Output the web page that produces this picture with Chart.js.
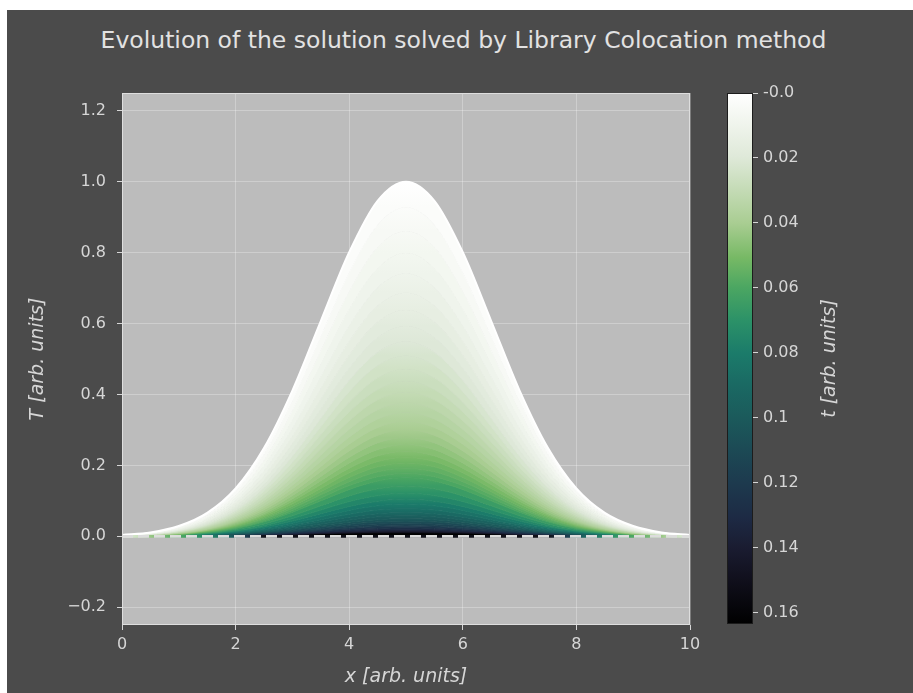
<!DOCTYPE html>
<html>
<head>
<meta charset="utf-8">
<script src="https://cdn.jsdelivr.net/npm/chart.js@4.4.1/dist/chart.umd.min.js"></script>
<style>
    html, body { margin: 0; padding: 0; background: #fff; width: 913px; height: 693px; overflow: hidden; }
    #fig   { position: absolute; left: 7px; top: 10px; width: 906px; height: 683px; background: #4b4b4b; }
    #title { position: absolute; left: 0; top: 26px; width: 913px; padding-left: 14px; box-sizing: border-box;
             text-align: center; font: 23.5px "DejaVu Sans"; line-height: 28px; color: #e2e2e2; }
    #main  { position: absolute; left: 0; top: 0; }
    #cbar  { position: absolute; left: 700px; top: 0; }
</style>
</head>
<body>
<div id="fig"></div>
<div id="title">Evolution of the solution solved by Library Colocation method</div>
<canvas id="main" width="913" height="693"></canvas>
<canvas id="cbar" width="213" height="693"></canvas>
<script>
/* global Chart */

// ---------------------------------------------------------------------------
// Data
// ---------------------------------------------------------------------------

const X_VALUES = [0, 0.5, 1, 1.5, 2, 2.5, 3, 3.5, 4, 4.5, 5, 5.5, 6, 6.5, 7, 7.5, 8, 8.5, 9, 9.5, 10];

const TIMES = [0, 0.0025, 0.005, 0.0075, 0.01, 0.0125, 0.015, 0.0175, 0.02, 0.0225, 0.025, 0.0275,
               0.03, 0.0325, 0.035, 0.0375, 0.04, 0.0425, 0.045, 0.0475, 0.05, 0.0525, 0.055, 0.0575,
               0.06, 0.065, 0.07, 0.075, 0.08, 0.085, 0.09, 0.095, 0.1, 0.105, 0.11, 0.115,
               0.12, 0.125, 0.13, 0.135, 0.14, 0.145, 0.15, 0.155, 0.16];

// T(x) for each time in TIMES
const T_VALUES = [
    [0.004, 0.011, 0.029, 0.066, 0.135, 0.249, 0.411, 0.607, 0.801, 0.946, 1.000, 0.946, 0.801, 0.607, 0.411, 0.249, 0.135, 0.066, 0.029, 0.011, 0.004],
    [0.004, 0.010, 0.027, 0.061, 0.125, 0.231, 0.381, 0.563, 0.743, 0.878, 0.928, 0.878, 0.743, 0.563, 0.381, 0.231, 0.125, 0.061, 0.027, 0.010, 0.004],
    [0.003, 0.010, 0.025, 0.057, 0.116, 0.214, 0.354, 0.523, 0.690, 0.815, 0.861, 0.815, 0.690, 0.523, 0.354, 0.214, 0.116, 0.057, 0.025, 0.010, 0.003],
    [0.003, 0.009, 0.023, 0.052, 0.108, 0.199, 0.328, 0.485, 0.640, 0.756, 0.799, 0.756, 0.640, 0.485, 0.328, 0.199, 0.108, 0.052, 0.023, 0.009, 0.003],
    [0.003, 0.008, 0.021, 0.049, 0.100, 0.185, 0.305, 0.450, 0.594, 0.701, 0.741, 0.701, 0.594, 0.450, 0.305, 0.185, 0.100, 0.049, 0.021, 0.008, 0.003],
    [0.003, 0.008, 0.020, 0.045, 0.093, 0.171, 0.282, 0.417, 0.550, 0.650, 0.687, 0.650, 0.550, 0.417, 0.282, 0.171, 0.093, 0.045, 0.020, 0.008, 0.003],
    [0.002, 0.007, 0.018, 0.042, 0.086, 0.159, 0.262, 0.387, 0.511, 0.604, 0.638, 0.604, 0.511, 0.387, 0.262, 0.159, 0.086, 0.042, 0.018, 0.007, 0.002],
    [0.002, 0.007, 0.017, 0.039, 0.080, 0.147, 0.243, 0.359, 0.474, 0.560, 0.592, 0.560, 0.474, 0.359, 0.243, 0.147, 0.080, 0.039, 0.017, 0.007, 0.002],
    [0.002, 0.006, 0.016, 0.036, 0.074, 0.137, 0.226, 0.333, 0.440, 0.519, 0.549, 0.519, 0.440, 0.333, 0.226, 0.137, 0.074, 0.036, 0.016, 0.006, 0.002],
    [0.002, 0.006, 0.015, 0.033, 0.069, 0.127, 0.209, 0.309, 0.408, 0.482, 0.509, 0.482, 0.408, 0.309, 0.209, 0.127, 0.069, 0.033, 0.015, 0.006, 0.002],
    [0.002, 0.005, 0.013, 0.031, 0.064, 0.118, 0.194, 0.287, 0.378, 0.447, 0.472, 0.447, 0.378, 0.287, 0.194, 0.118, 0.064, 0.031, 0.013, 0.005, 0.002],
    [0.002, 0.005, 0.013, 0.029, 0.059, 0.109, 0.180, 0.266, 0.351, 0.414, 0.438, 0.414, 0.351, 0.266, 0.180, 0.109, 0.059, 0.029, 0.013, 0.005, 0.002],
    [0.002, 0.005, 0.012, 0.027, 0.055, 0.101, 0.167, 0.247, 0.326, 0.385, 0.407, 0.385, 0.326, 0.247, 0.167, 0.101, 0.055, 0.027, 0.012, 0.005, 0.002],
    [0.001, 0.004, 0.011, 0.025, 0.051, 0.094, 0.155, 0.229, 0.302, 0.357, 0.377, 0.357, 0.302, 0.229, 0.155, 0.094, 0.051, 0.025, 0.011, 0.004, 0.001],
    [0.001, 0.004, 0.010, 0.023, 0.047, 0.087, 0.144, 0.212, 0.280, 0.331, 0.350, 0.331, 0.280, 0.212, 0.144, 0.087, 0.047, 0.023, 0.010, 0.004, 0.001],
    [0.001, 0.004, 0.009, 0.021, 0.044, 0.081, 0.134, 0.197, 0.260, 0.307, 0.325, 0.307, 0.260, 0.197, 0.134, 0.081, 0.044, 0.021, 0.009, 0.004, 0.001],
    [0.001, 0.003, 0.009, 0.020, 0.041, 0.075, 0.124, 0.183, 0.241, 0.285, 0.301, 0.285, 0.241, 0.183, 0.124, 0.075, 0.041, 0.020, 0.009, 0.003, 0.001],
    [0.001, 0.003, 0.008, 0.018, 0.038, 0.069, 0.115, 0.169, 0.223, 0.264, 0.279, 0.264, 0.223, 0.169, 0.115, 0.069, 0.038, 0.018, 0.008, 0.003, 0.001],
    [0.001, 0.003, 0.007, 0.017, 0.035, 0.064, 0.106, 0.157, 0.207, 0.245, 0.259, 0.245, 0.207, 0.157, 0.106, 0.064, 0.035, 0.017, 0.007, 0.003, 0.001],
    [0.001, 0.003, 0.007, 0.016, 0.032, 0.060, 0.099, 0.146, 0.192, 0.227, 0.240, 0.227, 0.192, 0.146, 0.099, 0.060, 0.032, 0.016, 0.007, 0.003, 0.001],
    [0.001, 0.002, 0.006, 0.015, 0.030, 0.056, 0.092, 0.135, 0.179, 0.211, 0.223, 0.211, 0.179, 0.135, 0.092, 0.056, 0.030, 0.015, 0.006, 0.002, 0.001],
    [0.001, 0.002, 0.006, 0.014, 0.028, 0.052, 0.085, 0.126, 0.166, 0.196, 0.207, 0.196, 0.166, 0.126, 0.085, 0.052, 0.028, 0.014, 0.006, 0.002, 0.001],
    [0.001, 0.002, 0.005, 0.013, 0.026, 0.048, 0.079, 0.117, 0.154, 0.182, 0.192, 0.182, 0.154, 0.117, 0.079, 0.048, 0.026, 0.013, 0.005, 0.002, 0.001],
    [0.001, 0.002, 0.005, 0.012, 0.024, 0.044, 0.073, 0.108, 0.143, 0.168, 0.178, 0.168, 0.143, 0.108, 0.073, 0.044, 0.024, 0.012, 0.005, 0.002, 0.001],
    [0.001, 0.002, 0.005, 0.011, 0.022, 0.041, 0.068, 0.100, 0.132, 0.156, 0.165, 0.156, 0.132, 0.100, 0.068, 0.041, 0.022, 0.011, 0.005, 0.002, 0.001],
    [0.001, 0.002, 0.004, 0.009, 0.019, 0.035, 0.058, 0.086, 0.114, 0.134, 0.142, 0.134, 0.114, 0.086, 0.058, 0.035, 0.019, 0.009, 0.004, 0.002, 0.001],
    [0,     0.001, 0.003, 0.008, 0.016, 0.030, 0.050, 0.074, 0.098, 0.115, 0.122, 0.115, 0.098, 0.074, 0.050, 0.030, 0.016, 0.008, 0.003, 0.001, 0],
    [0,     0.001, 0.003, 0.007, 0.014, 0.026, 0.043, 0.064, 0.084, 0.099, 0.105, 0.099, 0.084, 0.064, 0.043, 0.026, 0.014, 0.007, 0.003, 0.001, 0],
    [0,     0.001, 0.003, 0.006, 0.012, 0.023, 0.037, 0.055, 0.073, 0.086, 0.091, 0.086, 0.073, 0.055, 0.037, 0.023, 0.012, 0.006, 0.003, 0.001, 0],
    [0,     0.001, 0.002, 0.005, 0.011, 0.019, 0.032, 0.047, 0.062, 0.074, 0.078, 0.074, 0.062, 0.047, 0.032, 0.019, 0.011, 0.005, 0.002, 0.001, 0],
    [0,     0.001, 0.002, 0.004, 0.009, 0.017, 0.028, 0.041, 0.054, 0.064, 0.067, 0.064, 0.054, 0.041, 0.028, 0.017, 0.009, 0.004, 0.002, 0.001, 0],
    [0,     0.001, 0.002, 0.004, 0.008, 0.014, 0.024, 0.035, 0.046, 0.055, 0.058, 0.055, 0.046, 0.035, 0.024, 0.014, 0.008, 0.004, 0.002, 0.001, 0],
    [0,     0.001, 0.001, 0.003, 0.007, 0.012, 0.020, 0.030, 0.040, 0.047, 0.050, 0.047, 0.040, 0.030, 0.020, 0.012, 0.007, 0.003, 0.001, 0.001, 0],
    [0,     0,     0.001, 0.003, 0.006, 0.011, 0.018, 0.026, 0.034, 0.041, 0.043, 0.041, 0.034, 0.026, 0.018, 0.011, 0.006, 0.003, 0.001, 0,     0],
    [0,     0,     0.001, 0.002, 0.005, 0.009, 0.015, 0.022, 0.030, 0.035, 0.037, 0.035, 0.030, 0.022, 0.015, 0.009, 0.005, 0.002, 0.001, 0,     0],
    [0,     0,     0.001, 0.002, 0.004, 0.008, 0.013, 0.019, 0.025, 0.030, 0.032, 0.030, 0.025, 0.019, 0.013, 0.008, 0.004, 0.002, 0.001, 0,     0],
    [0,     0,     0.001, 0.002, 0.004, 0.007, 0.011, 0.017, 0.022, 0.026, 0.027, 0.026, 0.022, 0.017, 0.011, 0.007, 0.004, 0.002, 0.001, 0,     0],
    [0,     0,     0.001, 0.002, 0.003, 0.006, 0.010, 0.014, 0.019, 0.022, 0.024, 0.022, 0.019, 0.014, 0.010, 0.006, 0.003, 0.002, 0.001, 0,     0],
    [0,     0,     0.001, 0.001, 0.003, 0.005, 0.008, 0.012, 0.016, 0.019, 0.020, 0.019, 0.016, 0.012, 0.008, 0.005, 0.003, 0.001, 0.001, 0,     0],
    [0,     0,     0,     0.001, 0.002, 0.004, 0.007, 0.011, 0.014, 0.016, 0.017, 0.016, 0.014, 0.011, 0.007, 0.004, 0.002, 0.001, 0,     0,     0],
    [0,     0,     0,     0.001, 0.002, 0.004, 0.006, 0.009, 0.012, 0.014, 0.015, 0.014, 0.012, 0.009, 0.006, 0.004, 0.002, 0.001, 0,     0,     0],
    [0,     0,     0,     0.001, 0.002, 0.003, 0.005, 0.008, 0.010, 0.012, 0.013, 0.012, 0.010, 0.008, 0.005, 0.003, 0.002, 0.001, 0,     0,     0],
    [0,     0,     0,     0.001, 0.001, 0.003, 0.005, 0.007, 0.009, 0.010, 0.011, 0.010, 0.009, 0.007, 0.005, 0.003, 0.001, 0.001, 0,     0,     0],
    [0,     0,     0,     0.001, 0.001, 0.002, 0.004, 0.006, 0.008, 0.009, 0.010, 0.009, 0.008, 0.006, 0.004, 0.002, 0.001, 0.001, 0,     0,     0],
    [0,     0,     0,     0.001, 0.001, 0.002, 0.003, 0.005, 0.007, 0.008, 0.008, 0.008, 0.007, 0.005, 0.003, 0.002, 0.001, 0.001, 0,     0,     0],
];

const BASELINE = [0, 0, 0, 0, 0, 0, 0, 0, 0, 0, 0, 0, 0, 0, 0, 0, 0, 0, 0, 0, 0];

const X_TICKS       = [0, 2, 4, 6, 8, 10];
const X_TICK_LABELS = ['0', '2', '4', '6', '8', '10'];
const Y_TICKS       = [-0.2, 0, 0.2, 0.4, 0.6, 0.8, 1.0, 1.2];
const Y_TICK_LABELS = ['\u22120.2', '0.0', '0.2', '0.4', '0.6', '0.8', '1.0', '1.2'];

const T_MAX          = 0.1635;
const CB_TICKS       = [0, 0.02, 0.04, 0.06, 0.08, 0.1, 0.12, 0.14, 0.16];
const CB_TICK_LABELS = ['-0.0', '0.02', '0.04', '0.06', '0.08', '0.1', '0.12', '0.14', '0.16'];

// ---------------------------------------------------------------------------
// Colours
// ---------------------------------------------------------------------------

const CMAP_POS = [0, 0.12, 0.245, 0.31, 0.367, 0.43, 0.49, 0.55, 0.612, 0.67, 0.734, 0.8, 0.856, 0.92, 1];
const CMAP_HEX = ['#ffffff', '#dfe9d9', '#a9cd92', '#77b965', '#4ba662', '#2b9168', '#1b7b6a', '#1a6963',
                  '#1b5a5b', '#1c4a55', '#1d3a4e', '#1d2a44', '#1a1c31', '#100f1b', '#000000'];

// colour of the dash gaps along the zero line (x position -> colour)
const BASE_POS = [0, 0.3, 0.5, 1.0, 1.4, 1.8, 2.2, 2.5, 7.5, 7.8, 8.2, 8.6, 9.0, 9.5, 9.7, 10];
const BASE_HEX = ['#e4eee0', '#c8dfbb', '#98c784', '#4ea862', '#2a9068', '#1b6a63', '#1c3a4e', '#101018',
                  '#101018', '#1c3a4e', '#1b6a63', '#2a9068', '#4ea862', '#98c784', '#c8dfbb', '#e4eee0'];

const FG       = '#d6d6d6';
const PLOT_BG  = '#bcbcbc';
const FONT     = 'DejaVu Sans';
const TICK_PX  = 16;
const LABEL_PX = 19;

function hexRgb(h) {
    return [1, 3, 5].map(i => parseInt(h.slice(i, i + 2), 16));
}

function cmap(f) {
    f = Math.min(1, Math.max(0, f));
    let i = 0;
    while (i < CMAP_POS.length - 2 && f > CMAP_POS[i + 1]) i++;
    const u = (f - CMAP_POS[i]) / (CMAP_POS[i + 1] - CMAP_POS[i]);
    const a = hexRgb(CMAP_HEX[i]), b = hexRgb(CMAP_HEX[i + 1]);
    const c = a.map((v, k) => Math.round(v + (b[k] - v) * u));
    return `rgb(${c[0]},${c[1]},${c[2]})`;
}

const tColour = t => cmap(t / T_MAX);

// ---------------------------------------------------------------------------
// Main chart
// ---------------------------------------------------------------------------

const plotFrame = {
    id: 'plotFrame',
    beforeDraw(chart) {
        const { ctx, chartArea: a } = chart;
        ctx.save();
        ctx.fillStyle = PLOT_BG;
        ctx.fillRect(a.left, a.top, a.width, a.height);
        ctx.restore();
    },
    afterDraw(chart) {
        const { ctx, chartArea: a } = chart;
        ctx.save();
        ctx.strokeStyle = '#dedede';
        ctx.lineWidth = 1;
        ctx.strokeRect(a.left + 0.5, a.top + 0.5, a.width - 1, a.height - 1);
        ctx.restore();
    },
};

const toPoints = row => X_VALUES.map((x, i) => ({ x, y: row[i] }));

// band between curve k-1 and curve k: shaded from colour(t[k-1]) to colour(t[k]) along the peak
function bandFill(k) {
    return (c) => {
        const ch = c.chart;
        if (!ch.chartArea) return tColour(TIMES[k]);
        const ys = ch.scales.y;
        const y0 = ys.getPixelForValue(Math.max(...T_VALUES[k - 1]));
        const y1 = ys.getPixelForValue(Math.max(...T_VALUES[k]));
        const g = ch.ctx.createLinearGradient(0, y0, 0, y1);
        g.addColorStop(0, tColour(TIMES[k - 1]));
        g.addColorStop(1, tColour(TIMES[k]));
        return g;
    };
}

const curveSets = T_VALUES.map((row, k) => ({
    data:            toPoints(row),
    borderColor:     k === 0 ? '#ffffff' : tColour(TIMES[k]),
    backgroundColor: k === 0 ? '#ffffff' : bandFill(k),
    borderWidth:     k === 0 ? 2 : 1,
    fill:            k === 0 ? false : '-1',
    pointRadius:     0,
    cubicInterpolationMode: 'monotone',
    order:           0,
}));

const baseSet = {
    data:            toPoints(BASELINE),
    backgroundColor: cmap(1),
    fill:            '-1',
    borderWidth:     2.7,
    pointRadius:     0,
    order:           -1,
    borderColor: (c) => {
        const ch = c.chart;
        if (!ch.chartArea) return '#000';
        const xs = ch.scales.x;
        const g = ch.ctx.createLinearGradient(xs.getPixelForValue(0), 0, xs.getPixelForValue(10), 0);
        BASE_POS.forEach((p, i) => g.addColorStop(p / 10, BASE_HEX[i]));
        return g;
    },
};

const dashSet = {
    data:        toPoints(BASELINE),
    borderColor: '#dcdcdc',
    borderWidth: 2.7,
    borderDash:  [11, 5],
    fill:        false,
    pointRadius: 0,
    order:       -2,
};

new Chart(document.getElementById('main'), {
    type: 'line',
    data: { datasets: [...curveSets, baseSet, dashSet] },
    plugins: [plotFrame],
    options: {
        responsive: false,
        animation:  false,
        layout:     { padding: { left: 0, top: 93, right: 223, bottom: 0 } },
        plugins:    { legend: { display: false }, tooltip: { enabled: false } },
        scales: {
            x: {
                type: 'linear', min: 0, max: 10,
                afterFit: s => { s.height = 68; },
                afterBuildTicks: s => { s.ticks = X_TICKS.map(v => ({ value: v })); },
                ticks:  { color: FG, font: { family: FONT, size: TICK_PX }, padding: 5, maxRotation: 0,
                          callback: (v, i) => X_TICK_LABELS[i] },
                grid:   { color: 'rgba(255,255,255,0.28)', tickColor: FG, tickLength: 5 },
                border: { display: false },
                title:  { display: true, text: 'x [arb. units]', color: FG,
                          font: { family: FONT, size: LABEL_PX, style: 'italic' }, padding: { top: 0, bottom: 5 } },
            },
            y: {
                type: 'linear', min: -0.25, max: 1.25,
                afterFit: s => { s.width = 122; },
                afterBuildTicks: s => { s.ticks = Y_TICKS.map(v => ({ value: v })); },
                ticks:  { color: FG, font: { family: FONT, size: TICK_PX }, padding: 11,
                          callback: (v, i) => Y_TICK_LABELS[i] },
                grid:   { color: 'rgba(255,255,255,0.28)', tickColor: FG, tickLength: 5 },
                border: { display: false },
                title:  { display: true, text: 'T [arb. units]', color: FG,
                          font: { family: FONT, size: LABEL_PX, style: 'italic' }, padding: { top: 27, bottom: 0 } },
            },
        },
    },
});

// ---------------------------------------------------------------------------
// Colour bar
// ---------------------------------------------------------------------------

const colourBar = {
    id: 'colourBar',
    beforeDraw(chart) {
        const { ctx, chartArea: a, scales: { y } } = chart;
        const g = ctx.createLinearGradient(0, y.getPixelForValue(0), 0, y.getPixelForValue(T_MAX));
        CMAP_POS.forEach((p, i) => g.addColorStop(p, CMAP_HEX[i]));
        ctx.save();
        ctx.fillStyle = g;
        ctx.fillRect(a.left, a.top, a.width, a.height);
        ctx.strokeStyle = '#1c1c1c';
        ctx.lineWidth = 1;
        ctx.strokeRect(a.left + 0.5, a.top + 0.5, a.width - 1, a.height - 1);
        ctx.restore();
    },
    afterDraw(chart) {
        const { ctx, chartArea: a } = chart;
        ctx.save();
        ctx.translate(130, (a.top + a.bottom) / 2);
        ctx.rotate(-Math.PI / 2);
        ctx.fillStyle = FG;
        ctx.font = `italic ${LABEL_PX}px "${FONT}"`;
        ctx.textAlign = 'center';
        ctx.textBaseline = 'middle';
        ctx.fillText('t [arb. units]', 0, 0);
        ctx.restore();
    },
};

new Chart(document.getElementById('cbar'), {
    type: 'line',
    data: { datasets: [] },
    plugins: [colourBar],
    options: {
        responsive: false,
        animation:  false,
        layout:     { padding: { left: 27, top: 93, right: 0, bottom: 69 } },
        plugins:    { legend: { display: false }, tooltip: { enabled: false } },
        scales: {
            x: { type: 'linear', display: false, min: 0, max: 1 },
            y: {
                type: 'linear', position: 'right', reverse: true, min: 0, max: T_MAX,
                afterFit: s => { s.width = 160; },
                afterBuildTicks: s => { s.ticks = CB_TICKS.map(v => ({ value: v })); },
                ticks:  { color: FG, font: { family: FONT, size: TICK_PX }, padding: 5,
                          callback: (v, i) => CB_TICK_LABELS[i] },
                grid:   { drawOnChartArea: false, drawTicks: true, tickColor: FG, tickLength: 5 },
                border: { display: false },
            },
        },
    },
});
</script>
</body>
</html>
